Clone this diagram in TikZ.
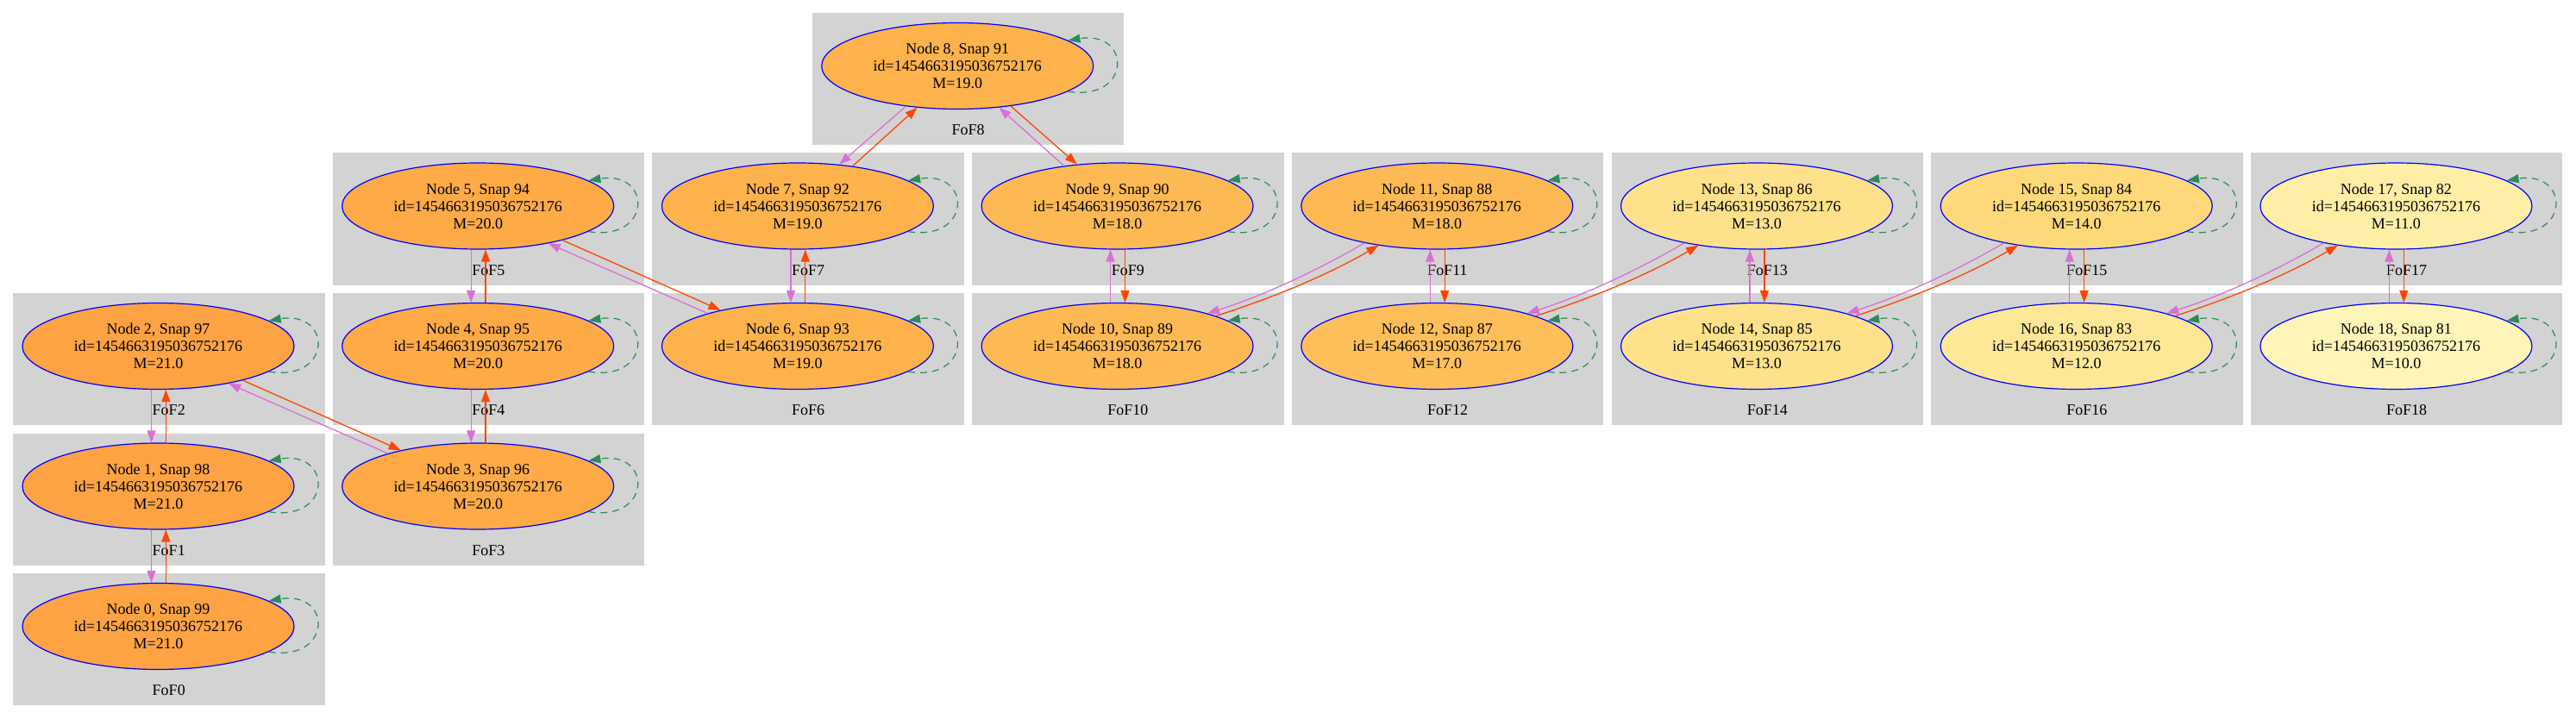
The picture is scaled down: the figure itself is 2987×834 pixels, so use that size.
\documentclass[tikz,border=0pt]{standalone}
\usepackage{fontspec}
\setmainfont{Liberation Serif}
\usetikzlibrary{arrows.meta,shapes.geometric}
\definecolor{clusterbg}{HTML}{D3D3D3}
\definecolor{orchidc}{HTML}{DA70D6}
\definecolor{orangec}{HTML}{FF4500}
\definecolor{seagreenc}{HTML}{2E8B57}
\definecolor{m21}{HTML}{FDA343}
\definecolor{m20}{HTML}{FDAA47}
\definecolor{m19}{HTML}{FDB24C}
\definecolor{m18}{HTML}{FDB954}
\definecolor{m17}{HTML}{FEBF5B}
\definecolor{m14}{HTML}{FED97A}
\definecolor{m13}{HTML}{FEE18A}
\definecolor{m12}{HTML}{FEE797}
\definecolor{m11}{HTML}{FFEFA6}
\definecolor{m10}{HTML}{FFF5B8}
\tikzset{
  halo/.style={ellipse, draw=blue, line width=1.2pt, minimum width=315pt, minimum height=100pt,
    inner sep=0pt, align=center, font=\fontsize{18}{20}\selectfont},
  fofl/.style={font=\fontsize{18}{20}\selectfont, inner sep=0pt},
  tipstyle/.style={-{Triangle[length=14pt,width=10pt]}},
  pe/.style={draw=orchidc, line width=1.3pt, tipstyle},
  re/.style={draw=orangec, line width=1.3pt, tipstyle},
  selfloop/.style={draw=seagreenc, line width=1.2pt, dash pattern=on 8pt off 6pt, tipstyle},
}
\newcommand\fofhalo[6]{%
  \fill[clusterbg] (#2-168.5,#3) rectangle ++(361.5,153);
  \node[fofl] (l#1) at (#2+12.25,#3+136) {FoF#1};
  \node[halo,fill=#6] (n#1) at (#2,#3+61.5) {Node #1, Snap #4\\id=1454663195036752176\\M=#5};
}
\begin{document}
\begin{tikzpicture}[x=1pt,y=-1pt]
\useasboundingbox (0,0) rectangle (2987,834);
\fofhalo{0}{183.5}{665}{99}{21.0}{m21}
\fofhalo{1}{183.5}{502.5}{98}{21.0}{m21}
\fofhalo{2}{183.5}{340}{97}{21.0}{m21}
\fofhalo{3}{554.2}{502.5}{96}{20.0}{m20}
\fofhalo{4}{554.2}{340}{95}{20.0}{m20}
\fofhalo{5}{554.2}{177.5}{94}{20.0}{m20}
\fofhalo{6}{924.9}{340}{93}{19.0}{m19}
\fofhalo{7}{924.9}{177.5}{92}{19.0}{m19}
\fofhalo{8}{1110.25}{15}{91}{19.0}{m19}
\fofhalo{9}{1295.6}{177.5}{90}{18.0}{m18}
\fofhalo{10}{1295.6}{340}{89}{18.0}{m18}
\fofhalo{11}{1666.3}{177.5}{88}{18.0}{m18}
\fofhalo{12}{1666.3}{340}{87}{17.0}{m17}
\fofhalo{13}{2037}{177.5}{86}{13.0}{m13}
\fofhalo{14}{2037}{340}{85}{13.0}{m13}
\fofhalo{15}{2407.7}{177.5}{84}{14.0}{m14}
\fofhalo{16}{2407.7}{340}{83}{12.0}{m12}
\fofhalo{17}{2778.4}{177.5}{82}{11.0}{m11}
\fofhalo{18}{2778.4}{340}{81}{10.0}{m10}
% self loops
\foreach \i in {0,...,18}
  \draw[selfloop] (n\i.-13.4) .. controls +(74,12) and +(74,-12) .. (n\i.13.4);
% vertical pairs, columns 0-2
\foreach \a/\b in {2/1,1/0,5/4,4/3,7/6} {
  \draw[pe] (n\a.-99.7) -- (n\b.99.7);
  \draw[re] (n\b.80.3) -- (n\a.-80.3);
}
% vertical pairs, columns 3-7
\foreach \a/\b in {9/10,11/12,13/14,15/16,17/18} {
  \draw[pe] (n\b.99.7) -- (n\a.-99.7);
  \draw[re] (n\a.-80.3) -- (n\b.80.3);
}
% diagonal pairs going down-right
\foreach \a/\b in {2/3,5/6} {
  \draw[re] (n\a.-22.9) -- (n\b.155.3);
  \draw[pe] (n\b.160.1) -- (n\a.-28.3);
}
% around node 8
\draw[pe] (n8.-142.6) -- (n7.45.5);
\draw[re] (n7.36.8) -- (n8.-134.1);
\draw[pe] (n9.143.4) -- (n8.-45.1);
\draw[re] (n8.-37.4) -- (n9.134.3);
% diagonal pairs going up-right (slightly curved)
\foreach \a/\b in {10/11,12/13,14/15,16/17} {
  \draw[re] (n\a.17) .. controls +(62,-20) and +(-62,36) .. (n\b.-146.4);
  \draw[pe] (n\b.-153.9) .. controls +(-60,35) and +(60,-19) .. (n\a.20.7);
}
\end{tikzpicture}
\end{document}
